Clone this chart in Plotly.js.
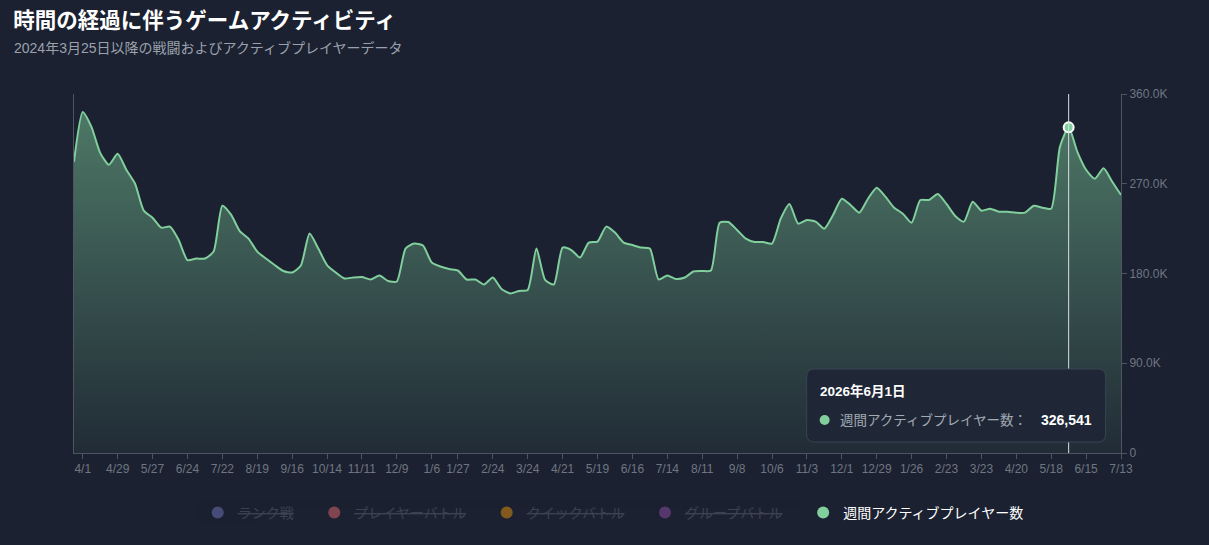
<!DOCTYPE html>
<html>
<head>
<meta charset="utf-8">
<script src="https://cdn.plot.ly/plotly-3.0.1.min.js"></script>
<style>
  html, body { margin: 0; padding: 0; background: #1b2130; }
  #chart { width: 1209px; height: 545px; }
</style>
</head>
<body>
<div id="chart"></div>
<script>
const startWeek = "2024-03-25";
const weeklyPlayers = [
  292000, 342000, 327000, 301000, 289000, 300000, 284000, 270000, 243000, 236000,
  226000, 227000, 213600, 193500, 195000, 195000, 202000, 248000, 239000, 222600,
  215000, 202000, 195000, 188500, 182500, 181000, 188000, 220000, 205000, 188500,
  181000, 175000, 176000, 176500, 174000, 178000, 172500, 172000, 205000, 210000,
  208000, 191000, 187000, 184500, 183000, 174000, 174000, 169000, 176000, 164500,
  160000, 162500, 163500, 205000, 173500, 169000, 206000, 203500, 196000, 211000,
  212000, 227000, 221000, 211000, 208500, 206000, 205000, 174000, 178000, 174500,
  176000, 182000, 182500, 183000, 231000, 231600, 223600, 215000, 211600, 211600,
  210000, 235000, 249700, 230000, 233600, 232000, 225000, 238700, 255000, 248700,
  241000, 255000, 266000, 257000, 246000, 240000, 231000, 253700, 253700, 259700,
  249700, 237700, 232000, 252000, 243000, 245000, 242000, 242000, 241000, 241000,
  248000, 246000, 245000, 307000, 326541, 302000, 284000, 275000, 285500, 272000,
  258700,
];

const tickDates = [
  "2024-04-01", "2024-04-29", "2024-05-27", "2024-06-24", "2024-07-22", "2024-08-19",
  "2024-09-16", "2024-10-14", "2024-11-11", "2024-12-09", "2025-01-06", "2025-01-27",
  "2025-02-24", "2025-03-24", "2025-04-21", "2025-05-19", "2025-06-16", "2025-07-14",
  "2025-08-11", "2025-09-08", "2025-10-06", "2025-11-03", "2025-12-01", "2025-12-29",
  "2026-01-26", "2026-02-23", "2026-03-23", "2026-04-20", "2026-05-18", "2026-06-15",
  "2026-07-13",
];
const tickLabels = [
  "4/1", "4/29", "5/27", "6/24", "7/22", "8/19", "9/16", "10/14", "11/11", "12/9",
  "1/6", "1/27", "2/24", "3/24", "4/21", "5/19", "6/16", "7/14", "8/11", "9/8",
  "10/6", "11/3", "12/1", "12/29", "1/26", "2/23", "3/23", "4/20", "5/18", "6/15",
  "7/13",
];

const yTickVals = [0, 90000, 180000, 270000, 360000];
const yTickLabels = ["0", "90.0K", "180.0K", "270.0K", "360.0K"];

const hiddenSeries = ["ランク戦", "プレイヤーバトル", "クイックバトル", "グループバトル"];
const hiddenColors = ["#7577c0", "#e56770", "#e9930c", "#8f4dac"];
const activeName = "週間アクティブプレイヤー数";
const activeColor = "#80cf9c";
const hoverIndex = 114;

// weekly dates, one per value
function weekDates(start, count) {
  const out = [];
  const d = new Date(start + "T00:00:00Z");
  for (let i = 0; i < count; i++) {
    out.push(new Date(d.getTime() + i * 7 * 86400000).toISOString().slice(0, 10));
  }
  return out;
}

const dates = weekDates(startWeek, weeklyPlayers.length);
const hoverDate = dates[hoverIndex];
const hoverValue = weeklyPlayers[hoverIndex];
const [hy, hm, hd] = hoverDate.split("-").map(Number);
const hoverTitle = `${hy}年${hm}月${hd}日`;

const font = '"Liberation Sans", "Noto Sans CJK JP", sans-serif';
const pad = "\u00a0\u00a0\u00a0\u00a0";

const areaTrace = {
  type: "scatter",
  mode: "lines",
  x: dates,
  y: weeklyPlayers,
  fill: "tozeroy",
  fillgradient: {
    type: "vertical",
    start: 0,
    stop: 360000,
    colorscale: [
      [0, "rgba(128,207,156,0.06)"],
      [1, "rgba(128,207,156,0.52)"],
    ],
  },
  line: { color: activeColor, width: 2, shape: "spline", smoothing: 0.6 },
  showlegend: false,
  hoverinfo: "skip",
};

const hoverDot = {
  type: "scatter",
  mode: "markers",
  x: [hoverDate],
  y: [hoverValue],
  marker: { size: 10, color: activeColor, line: { color: "#ffffff", width: 2 } },
  showlegend: false,
  hoverinfo: "skip",
  cliponaxis: false,
};

const legendTraces = hiddenSeries.map((name, i) => ({
  type: "scatter",
  mode: "markers",
  x: [null],
  y: [null],
  name: `<span style="color:#5d6370"><s>${name}</s></span>${pad}`,
  visible: "legendonly",
  marker: { size: 12, color: hiddenColors[i] },
}));

const activeLegend = {
  type: "scatter",
  mode: "markers",
  x: [null],
  y: [null],
  name: activeName,
  marker: { size: 12, color: activeColor },
};

const tipBox =
  "M -254,11 L 29,11 Q 37,11 37,19 L 37,76 Q 37,84 29,84 " +
  "L -254,84 Q -262,84 -262,76 L -262,19 Q -262,11 -254,11 Z";

const layout = {
  width: 1209,
  height: 545,
  margin: { l: 74, r: 88, t: 94, b: 92 },
  paper_bgcolor: "#1b2130",
  plot_bgcolor: "#1b2130",
  font: { family: font, color: "#6f7682", size: 12 },
  title: {
    text: "<b>時間の経過に伴うゲームアクティビティ</b>",
    font: { size: 21.5, color: "#ffffff", family: font },
    xref: "container",
    x: 0.011,
    xanchor: "left",
    yref: "container",
    y: 0.963,
    yanchor: "middle",
  },
  xaxis: {
    type: "date",
    range: [dates[0], dates[dates.length - 1]],
    tickvals: tickDates,
    ticktext: tickLabels,
    ticks: "outside",
    ticklen: 5,
    tickcolor: "#4f5560",
    tickfont: { size: 12, color: "#6f7682" },
    showline: true,
    linecolor: "#4f5560",
    linewidth: 1,
    showgrid: false,
    zeroline: false,
  },
  yaxis: {
    side: "right",
    range: [0, 360000],
    tickvals: yTickVals,
    ticktext: yTickLabels,
    ticks: "outside",
    ticklen: 5,
    tickcolor: "#4f5560",
    tickfont: { size: 12, color: "#6f7682" },
    showline: true,
    mirror: true,
    linecolor: "#4f5560",
    linewidth: 1,
    showgrid: false,
    zeroline: false,
  },
  legend: {
    orientation: "h",
    x: 0.515,
    xanchor: "center",
    y: -0.167,
    yanchor: "middle",
    font: { size: 14, color: "#ffffff", family: font },
    bgcolor: "rgba(0,0,0,0)",
    itemclick: false,
  },
  shapes: [
    {
      type: "line",
      xref: "x",
      yref: "paper",
      x0: hoverDate,
      x1: hoverDate,
      y0: 0,
      y1: 1,
      line: { color: "#d9dee4", width: 1 },
      layer: "above",
    },
    {
      type: "path",
      xref: "x",
      yref: "y",
      xsizemode: "pixel",
      ysizemode: "pixel",
      xanchor: hoverDate,
      yanchor: 0,
      path: tipBox,
      fillcolor: "#1f2736",
      line: { color: "#3a4452", width: 1 },
      layer: "above",
    },
    {
      type: "circle",
      xref: "x",
      yref: "y",
      xsizemode: "pixel",
      ysizemode: "pixel",
      xanchor: hoverDate,
      yanchor: 0,
      x0: -249,
      x1: -239,
      y0: 28,
      y1: 38,
      fillcolor: activeColor,
      line: { width: 0 },
      layer: "above",
    },
  ],
  annotations: [
    {
      text: "2024年3月25日以降の戦闘およびアクティブプレイヤーデータ",
      xref: "paper",
      yref: "paper",
      x: -0.059,
      y: 1.128,
      xanchor: "left",
      yanchor: "middle",
      showarrow: false,
      font: { size: 14, color: "#9aa1ac" },
    },
    {
      text: `<b>${hoverTitle}</b>`,
      xref: "x",
      yref: "y",
      x: hoverDate,
      y: 0,
      xshift: -251,
      yshift: 62,
      xanchor: "left",
      yanchor: "middle",
      showarrow: false,
      font: { size: 13.5, color: "#ffffff" },
    },
    {
      text: `${activeName}：`,
      xref: "x",
      yref: "y",
      x: hoverDate,
      y: 0,
      xshift: -231,
      yshift: 33,
      xanchor: "left",
      yanchor: "middle",
      showarrow: false,
      font: { size: 13.5, color: "#a3aab5" },
    },
    {
      text: `<b>${hoverValue.toLocaleString("en-US")}</b>`,
      xref: "x",
      yref: "y",
      x: hoverDate,
      y: 0,
      xshift: 25,
      yshift: 33,
      xanchor: "right",
      yanchor: "middle",
      showarrow: false,
      font: { size: 14, color: "#ffffff" },
    },
  ],
};

Plotly.newPlot(
  "chart",
  [areaTrace, hoverDot, ...legendTraces, activeLegend],
  layout,
  { displayModeBar: false, staticPlot: true },
);
</script>
</body>
</html>
